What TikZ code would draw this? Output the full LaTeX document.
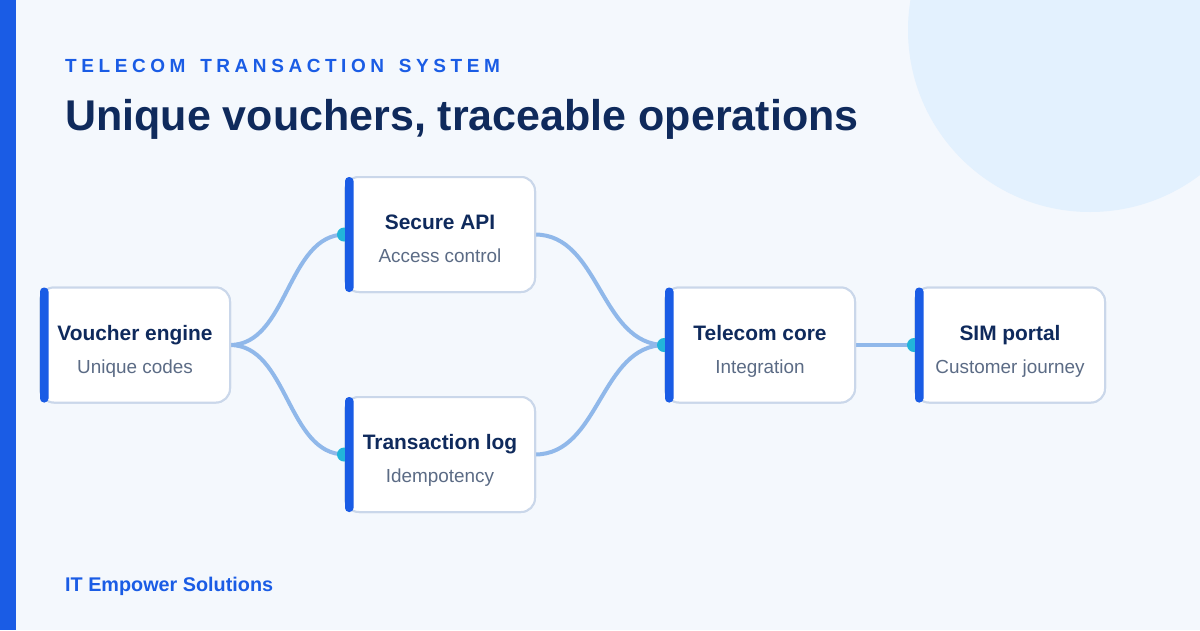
\documentclass[tikz,border=0pt]{standalone}
\usepackage{fontspec}
\setmainfont{Liberation Sans}
\newfontfamily\spacedfont[LetterSpace=24]{Liberation Sans}
\usetikzlibrary{calc}
\definecolor{bgc}{HTML}{F4F8FD}
\definecolor{circc}{HTML}{E3F1FE}
\definecolor{accent}{HTML}{1A5CE5}
\definecolor{navy}{HTML}{0F2A5C}
\definecolor{subc}{HTML}{5B6B85}
\definecolor{borderc}{HTML}{CAD7EA}
\definecolor{linkc}{HTML}{90B8EA}
\definecolor{dotc}{HTML}{22B5DA}
\begin{document}
\begin{tikzpicture}[x=1pt,y=-1pt,
  card/.style={draw=borderc, line width=2pt, fill=white, rounded corners=14pt,
    minimum width=190pt, minimum height=115pt, inner sep=0pt, outer sep=0pt},
  cardtitle/.style={anchor=base, text=navy, font=\bfseries\fontsize{20.9}{24}\selectfont, inner sep=0pt},
  cardsub/.style={anchor=base, text=subc, font=\fontsize{18.9}{22}\selectfont, inner sep=0pt},
  link/.style={draw=linkc, line width=4pt},
  joint/.style={fill=dotc},
  sidebar/.style={fill=accent, rounded corners=4pt}
]
\useasboundingbox (0,0) rectangle (1200,630);
\clip (0,0) rectangle (1200,630);
\fill[bgc] (0,0) rectangle (1200,630);
\fill[circc] (1090,30) circle[radius=182];
\fill[accent] (0,0) rectangle (16,630);

\node[anchor=base west, inner sep=0pt, text=accent, font=\spacedfont\bfseries\fontsize{19}{22}\selectfont] (kicker) at (65,72) {TELECOM\hspace{5pt} TRANSACTION\hspace{5pt} SYSTEM};
\node[anchor=base west, inner sep=0pt, text=navy, font=\bfseries\fontsize{43}{48}\selectfont] (title) at (65,130) {Unique vouchers, traceable operations};
\node[anchor=base west, inner sep=0pt, text=accent, font=\bfseries\fontsize{19.8}{22}\selectfont] (footer) at (65,591) {IT Empower Solutions};

% cards
\node[card] (v) at (135,345) {};
\node[card] (s) at (440,234.5) {};
\node[card] (t) at (440,454.5) {};
\node[card] (c) at (760,345) {};
\node[card] (p) at (1010,345) {};

% links
\draw[link] (v.east) .. controls +(58,0) and +(-58,0) .. (s.west);
\draw[link] (v.east) .. controls +(58,0) and +(-58,0) .. (t.west);
\draw[link] (s.east) .. controls +(65,0) and +(-65,0) .. (c.west);
\draw[link] (t.east) .. controls +(65,0) and +(-65,0) .. (c.west);
\draw[link] (c.east) -- (p.west);

% redraw cards on top of links
\foreach \n in {v,s,t,c,p}{
  \path[draw=borderc, line width=2pt, fill=white, rounded corners=14pt]
    (\n.north west) rectangle (\n.south east);
}

% joints at targets
\foreach \n in {s,t,c,p}{
  \fill[joint] ($(\n.west)+(-1,0)$) circle[radius=7];
}

% accent bars
\foreach \n in {v,s,t,c,p}{
  \fill[sidebar] (\n.north west) rectangle ($(\n.south west)+(8.5,0)$);
}

% texts
\node[cardtitle] (vt) at ($(v.center)+(0,-5)$) {Voucher engine};
\node[cardsub] (vs) at ($(v.center)+(0,28)$) {Unique codes};
\node[cardtitle] (st) at ($(s.center)+(0,-5)$) {Secure API};
\node[cardsub] (ss) at ($(s.center)+(0,28)$) {Access control};
\node[cardtitle] (tt) at ($(t.center)+(0,-5)$) {Transaction log};
\node[cardsub] (ts) at ($(t.center)+(0,28)$) {Idempotency};
\node[cardtitle] (ct) at ($(c.center)+(0,-5)$) {Telecom core};
\node[cardsub] (cs) at ($(c.center)+(0,28)$) {Integration};
\node[cardtitle] (pt) at ($(p.center)+(0,-5)$) {SIM portal};
\node[cardsub] (ps) at ($(p.center)+(0,28)$) {Customer journey};
\end{tikzpicture}
\end{document}
